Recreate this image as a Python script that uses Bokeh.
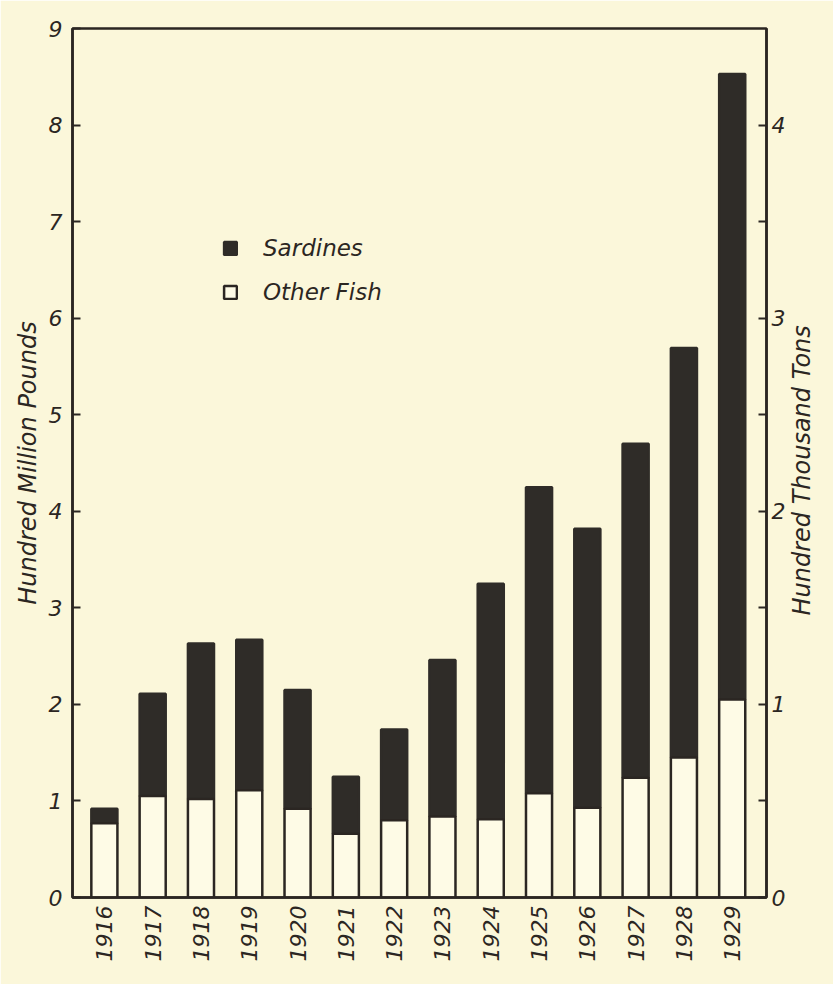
import numpy as np
from bokeh.plotting import figure
from bokeh.models import (Range1d, LinearAxis, FixedTicker, Legend, LegendItem,
                          ColumnDataSource, BoxAnnotation, InlineStyleSheet)
from bokeh.embed import file_html
from bokeh.resources import INLINE

# ---- data (hundred million pounds) ----
years = ["1916", "1917", "1918", "1919", "1920", "1921", "1922",
         "1923", "1924", "1925", "1926", "1927", "1928", "1929"]
other_fish = [0.77, 1.05, 1.02, 1.11, 0.92, 0.66, 0.80,
              0.84, 0.81, 1.08, 0.93, 1.24, 1.45, 2.05]
sardines = [0.15, 1.06, 1.61, 1.56, 1.23, 0.59, 0.94,
            1.62, 2.44, 3.17, 2.89, 3.46, 4.24, 6.48]
left_ticks = [0, 1, 2, 3, 4, 5, 6, 7, 8, 9]
right_ticks = [0, 1, 2, 3, 4]
right_minor = [0.5, 1.5, 2.5, 3.5]

INK = "#2b2622"
PAPER = "#fbf7da"
WHITE = "#fefbe6"
DARK = "#2f2c28"
FONT = "DejaVu Sans"

xs = np.arange(len(years))
other = np.array(other_fish)
sard = np.array(sardines)
src = ColumnDataSource(dict(x=xs, other=other, total=other + sard,
                            zero=np.zeros(len(years))))

p = figure(width=833, height=984, output_backend="svg", toolbar_location=None,
           x_range=Range1d(-0.66, 13.71), y_range=Range1d(0, 9),
           min_border_left=72, min_border_right=66, min_border_top=28,
           min_border_bottom=87)
p.background_fill_color = PAPER
p.border_fill_color = PAPER
p.outline_line_color = INK
p.outline_line_width = 2.5
p.xgrid.visible = False
p.ygrid.visible = False
p.stylesheets = [InlineStyleSheet(css=":host { outline: 3px solid #2b2622; outline-offset: -9px; }")]

sr = p.vbar(x="x", bottom="other", top="total", width=0.54, source=src,
            fill_color=DARK, line_color=DARK, line_width=2.5)
orr = p.vbar(x="x", bottom="zero", top="other", width=0.54, source=src,
             fill_color=WHITE, line_color=INK, line_width=2.5)

# bottom axis
xa = p.xaxis[0]
xa.ticker = FixedTicker(ticks=list(xs))
xa.major_label_overrides = {int(i): y for i, y in zip(xs, years)}
xa.major_label_orientation = np.pi / 2
xa.major_tick_in = 0
xa.major_tick_out = 0
xa.minor_tick_line_color = None
xa.major_label_standoff = 8

# left axis
ya = p.yaxis[0]
ya.ticker = FixedTicker(ticks=left_ticks)
ya.axis_label = "Hundred Million Pounds"
ya.major_tick_in = 8
ya.major_tick_out = 0
ya.minor_tick_line_color = None
ya.major_label_standoff = 10
ya.axis_label_standoff = 4

# right axis (hundred thousand tons)
p.extra_y_ranges = {"tons": Range1d(0, 4.5)}
ra = LinearAxis(y_range_name="tons",
                ticker=FixedTicker(ticks=right_ticks, minor_ticks=right_minor))
ra.major_tick_in = 8
ra.major_tick_out = 0
ra.minor_tick_in = 8
ra.minor_tick_out = 0
ra.major_label_standoff = 5
p.add_layout(ra, "right")

for ax in (xa, ya, ra):
    ax.axis_line_color = INK
    ax.axis_line_width = 2.5
    ax.major_tick_line_color = INK
    ax.major_tick_line_width = 2
    ax.minor_tick_line_width = 2
    ax.major_label_text_font = FONT
    ax.major_label_text_font_style = "italic"
    ax.major_label_text_font_size = "22px"
    ax.major_label_text_color = INK
    ax.axis_label_text_font = FONT
    ax.axis_label_text_font_style = "italic"
    ax.axis_label_text_font_size = "24px"
    ax.axis_label_text_color = INK
ra.minor_tick_line_color = INK

# right-hand title, reading bottom to top like the left one
# (a vertical label starts at its anchor, so the anchor sits below centre)
TITLE_ANCHOR = 2.92
rt = LinearAxis(ticker=FixedTicker(ticks=[TITLE_ANCHOR]))
rt.major_label_overrides = {TITLE_ANCHOR: "Hundred Thousand Tons"}
rt.major_label_orientation = np.pi / 2
rt.axis_line_color = None
rt.major_tick_line_color = None
rt.minor_tick_line_color = None
rt.major_label_standoff = 8
rt.major_label_text_font = FONT
rt.major_label_text_font_style = "italic"
rt.major_label_text_font_size = "24px"
rt.major_label_text_color = INK
p.add_layout(rt, "right")

legend = Legend(items=[LegendItem(label="Sardines", renderers=[sr]),
                       LegendItem(label="Other Fish", renderers=[orr])],
                location=(150, 592))
legend.background_fill_alpha = 0
legend.border_line_color = None
legend.glyph_width = 16
legend.glyph_height = 16
legend.label_standoff = 25
legend.spacing = 18
legend.padding = 0
legend.margin = 0
legend.label_text_font = FONT
legend.label_text_font_style = "italic"
legend.label_text_font_size = "23px"
legend.label_text_color = INK
p.add_layout(legend)

frame_box = BoxAnnotation(left=8, right=829, top=8, bottom=979,
                          left_units="canvas", right_units="canvas",
                          top_units="canvas", bottom_units="canvas",
                          fill_alpha=0, line_color=INK, line_width=3)
p.add_layout(frame_box)

open("out.html", "w").write(file_html(p, INLINE))
